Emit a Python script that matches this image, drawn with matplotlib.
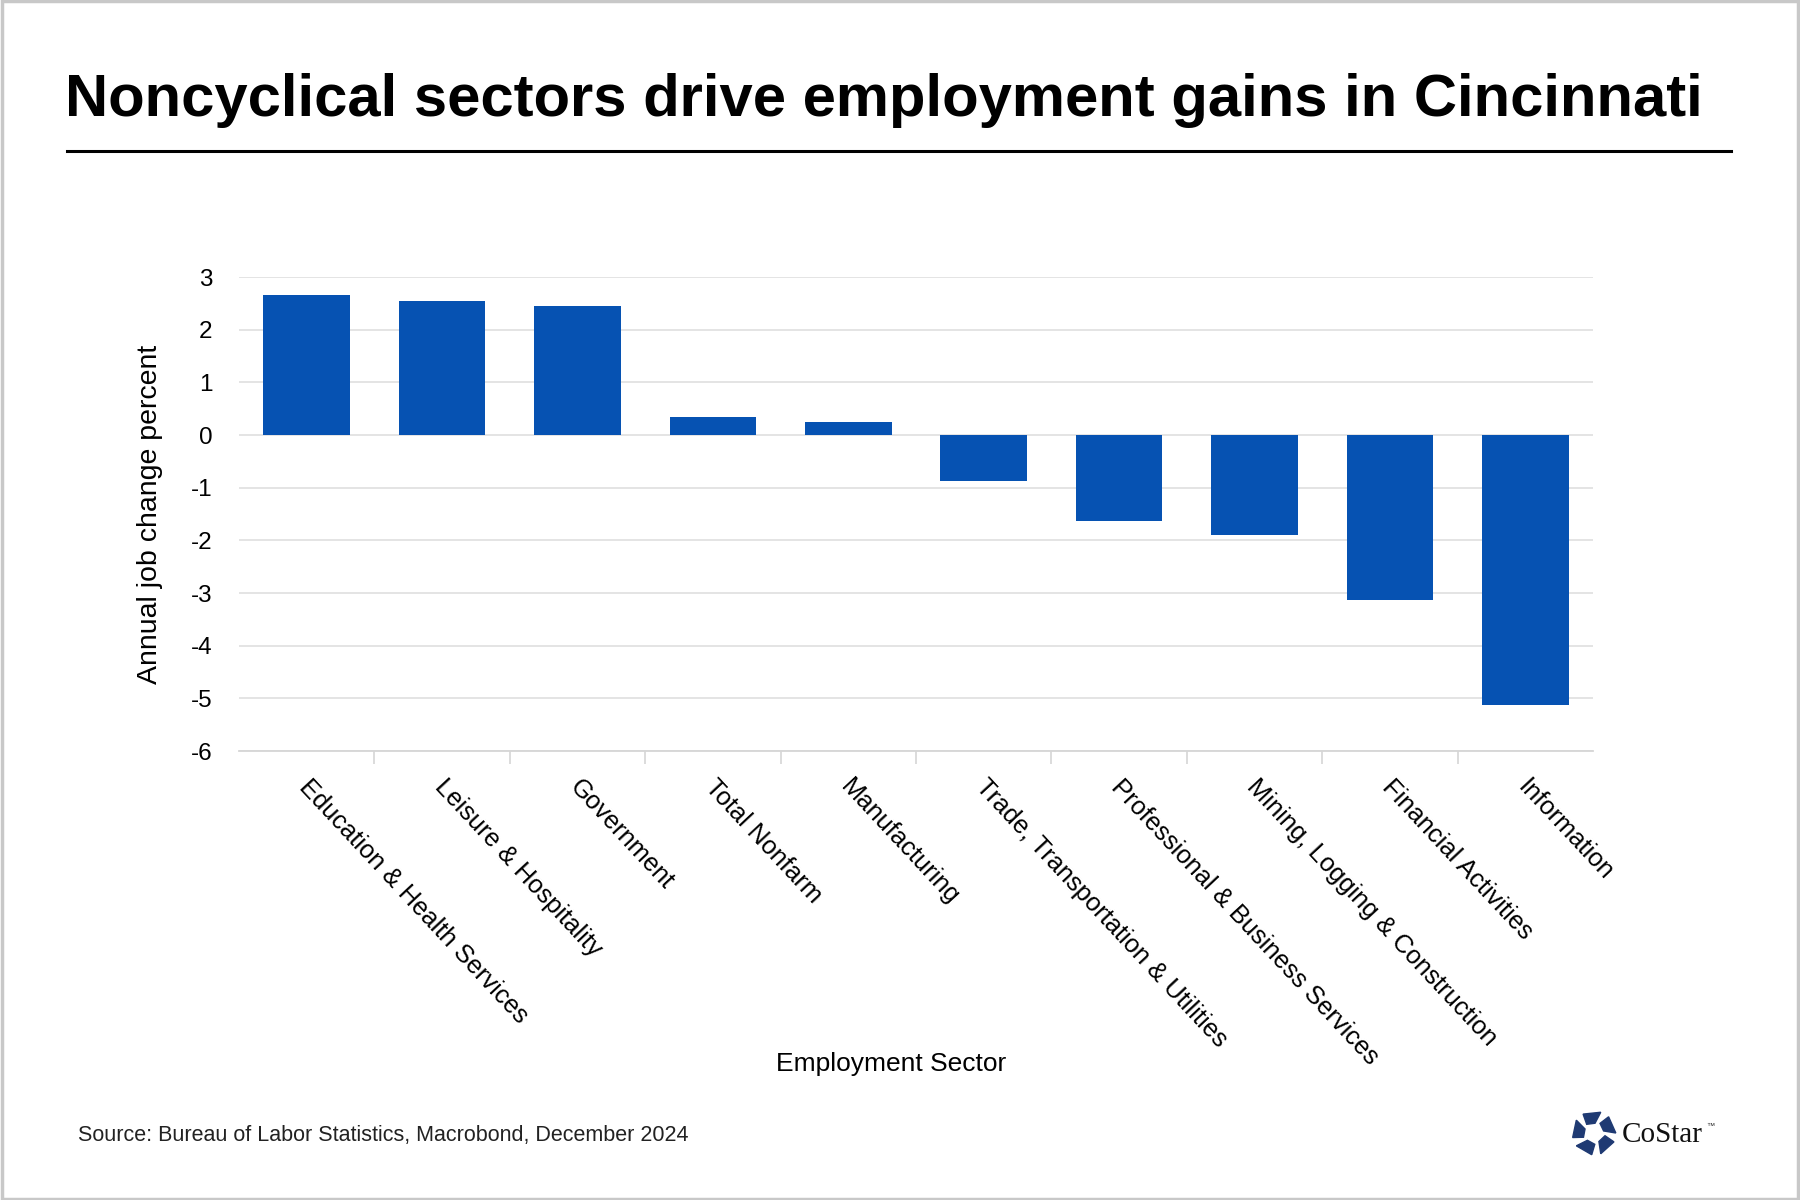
import matplotlib
matplotlib.use("Agg")
import matplotlib.pyplot as plt
import matplotlib.transforms as mtransforms
import numpy as np
from matplotlib.lines import Line2D
from matplotlib.patches import Polygon, Rectangle

plt.rcParams["font.family"] = ["Liberation Sans", "DejaVu Sans"]
plt.rcParams["axes.unicode_minus"] = False

# data
sectors = [
    "Education & Health Services",
    "Leisure & Hospitality",
    "Government",
    "Total Nonfarm",
    "Manufacturing",
    "Trade, Transportation & Utilities",
    "Professional & Business Services",
    "Mining, Logging & Construction",
    "Financial Activities",
    "Information",
]
job_change = [2.66, 2.55, 2.45, 0.35, 0.24, -0.88, -1.63, -1.90, -3.14, -5.12]
y_ticks = [3, 2, 1, 0, -1, -2, -3, -4, -5, -6]

TITLE = "Noncyclical sectors drive employment gains in Cincinnati"
SOURCE = "Source: Bureau of Labor Statistics, Macrobond, December 2024"
BAR_COLOR = "#0652B2"
GRID = "#e2e2e2"

W, H = 1800, 1200
fig = plt.figure(figsize=(18, 12), dpi=100)

# frame round the picture
fig.add_artist(Rectangle((0.001, 0.001), 0.998, 0.998, transform=fig.transFigure,
                         fill=False, edgecolor="#c8c8c8", linewidth=2.5))

# title and rule
fig.text(65 / W, 1 - 101 / H, TITLE, fontsize=43, fontweight="bold", va="center", ha="left")
fig.add_artist(Line2D([67 / W, 1731 / W], [1 - 151 / H, 1 - 151 / H],
                      transform=fig.transFigure, color="black", linewidth=2.2))

# main axes
ax = fig.add_axes([239 / W, 1 - 751 / H, (1593 - 239) / W, (751 - 277) / H])
x = np.arange(len(sectors))
ax.bar(x, job_change, width=0.64, color=BAR_COLOR, zorder=3)
ax.set_xlim(-0.5, len(sectors) - 0.5)
ax.set_ylim(-6, 3)
ax.set_yticks(y_ticks)
ax.set_yticklabels([str(v) for v in y_ticks])
ax.yaxis.grid(True, color=GRID, linewidth=1.3, zorder=0)
ax.set_axisbelow(True)

for s in ["top", "right", "left"]:
    ax.spines[s].set_visible(False)
ax.spines["bottom"].set_color("#d6d6d6")
ax.spines["bottom"].set_linewidth(1.3)

ax.tick_params(axis="y", length=0, pad=19, labelsize=17.5)
ax.set_xticks(x)
ax.set_xticklabels(sectors, rotation=-47, ha="left", va="top", rotation_mode="anchor", fontsize=18.4)
ax.tick_params(axis="x", which="major", length=0, pad=17)
shift = mtransforms.ScaledTranslation(5 / 100, 0, fig.dpi_scale_trans)
for lbl in ax.get_xticklabels():
    lbl.set_transform(lbl.get_transform() + shift)
ax.set_xticks(np.arange(0.5, len(sectors) - 1, 1.0), minor=True)
ax.tick_params(axis="x", which="minor", length=9, width=1.2, color="#d6d6d6")

ax.set_ylabel("Annual job change percent", fontsize=20.5)
ax.yaxis.set_label_coords(-0.056, 0.5)

fig.text(891 / W, 1 - 1064 / H, "Employment Sector", fontsize=19, ha="center", va="center")
fig.text(78 / W, 1 - 1136 / H, SOURCE, fontsize=15.5, ha="left", va="center", color="#222222")

# CoStar logo
lax = fig.add_axes([(1594 - 24) / W, 1 - (1133 + 24) / H, 48 / W, 48 / H])
lax.set_xlim(-1.1, 1.1)
lax.set_ylim(-1.1, 1.1)
lax.set_aspect("equal")
lax.axis("off")
for k in range(5):
    a = np.deg2rad(100 + 72 * k)
    pts = []
    for r, da in [(0.45, -16), (1.0, -28), (1.0, 20), (0.52, 30)]:
        ang = a + np.deg2rad(da)
        pts.append((r * np.cos(ang), r * np.sin(ang)))
    lax.add_patch(Polygon(pts, closed=True, color="#1f3a73"))
fig.text(1622 / W, 1 - 1135 / H, "CoStar", fontsize=21, family=["Liberation Serif"],
         ha="left", va="center", color="#111111")
fig.text(1706 / W, 1 - 1127 / H, "™", fontsize=6, ha="left", va="center", color="#333333")

fig.savefig("out.png", dpi=100)
